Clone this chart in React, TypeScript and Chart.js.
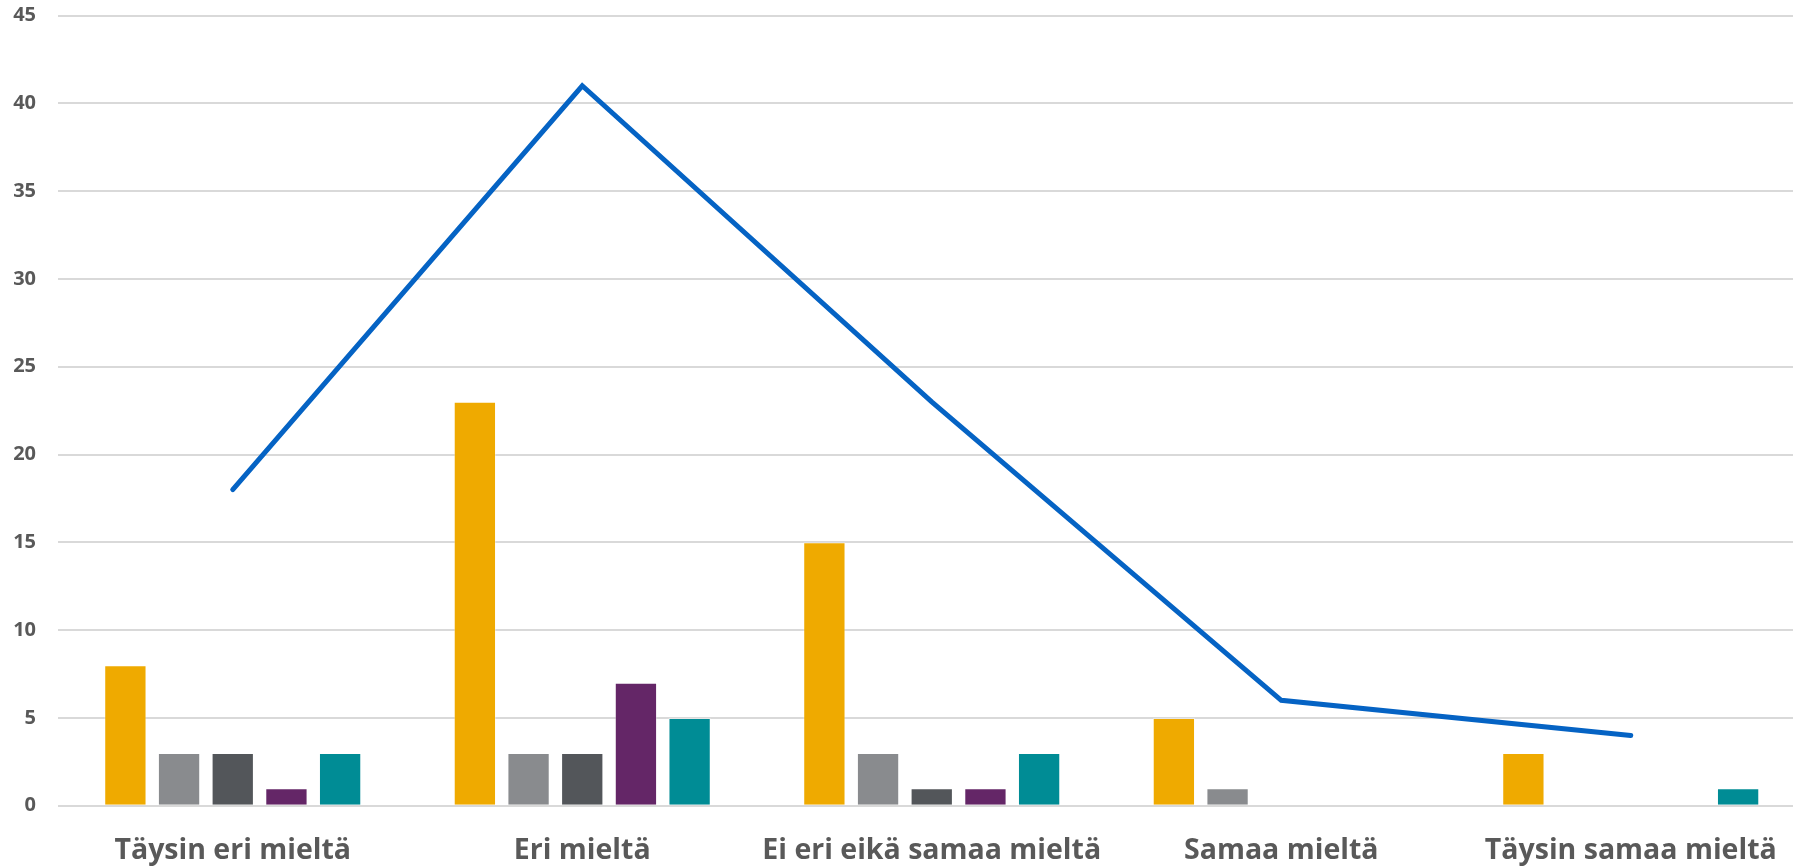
import React, { useEffect, useRef } from "react";
import { Chart, registerables } from "chart.js";

Chart.register(...registerables);

const categories = [
  "Täysin eri mieltä",
  "Eri mieltä",
  "Ei eri eikä samaa mieltä",
  "Samaa mieltä",
  "Täysin samaa mieltä",
];

const series1 = [8, 23, 15, 5, 3];
const series2 = [3, 3, 3, 1, 0];
const series3 = [3, 3, 1, 0, 0];
const series4 = [1, 7, 1, 0, 0];
const series5 = [3, 5, 3, 0, 1];
const totals = [18, 41, 23, 6, 4];

const yTicks = { min: 0, max: 45, step: 5 };

const barColors = ["#EFAA00", "#898B8E", "#53565A", "#642667", "#008C95"];
const lineColor = "#0563C4";
const textColor = "#595959";
const gridColor = "#D9D9D9";

export default function App() {
  const canvasRef = useRef<HTMLCanvasElement | null>(null);

  useEffect(() => {
    document.documentElement.style.overflow = "hidden";
    document.body.style.overflow = "hidden";
    const canvas = canvasRef.current;
    if (!canvas) return;

    const barSets = [series1, series2, series3, series4, series5].map((data, i) => ({
      type: "bar" as const,
      label: `Sarja ${i + 1}`,
      data,
      backgroundColor: barColors[i],
      borderColor: "rgba(255,255,255,0.35)",
      borderWidth: 1,
      categoryPercentage: 0.768,
      barPercentage: 0.788,
      order: 1,
    }));

    const chart = new Chart(canvas, {
      type: "bar",
      data: {
        labels: categories,
        datasets: [
          ...barSets,
          {
            type: "line" as const,
            label: "Yhteensä",
            data: totals,
            borderColor: lineColor,
            borderWidth: 5,
            pointRadius: 0,
            tension: 0,
            fill: false,
            borderCapStyle: "round",
            borderJoinStyle: "miter",
            order: 0,
          } as any,
        ],
      },
      options: {
        animation: false,
        responsive: true,
        maintainAspectRatio: false,
        layout: { padding: { top: 115.5, left: 0, right: 24.5, bottom: 0 } },
        plugins: {
          legend: { display: false },
          title: { display: false },
          tooltip: { enabled: false },
        },
        scales: {
          x: {
            grid: { display: false, drawTicks: false },
            border: { display: false },
            ticks: {
              color: textColor,
              padding: 28,
              maxRotation: 0,
              autoSkip: false,
              font: { family: "'Open Sans'", size: 28.5, weight: "bold" },
            },
            afterFit: (scale: any) => {
              scale.height = 94.3;
            },
          },
          y: {
            min: yTicks.min,
            max: yTicks.max,
            grid: { color: gridColor, lineWidth: 2, drawTicks: false },
            border: { display: false },
            ticks: {
              stepSize: yTicks.step,
              color: textColor,
              padding: 22,
              font: { family: "'Open Sans'", size: 20, weight: "bold" },
            },
            afterFit: (scale: any) => {
              scale.width = 58;
            },
          },
        },
      },
    });

    return () => chart.destroy();
  }, []);

  return (
    <div
      style={{
        position: "fixed",
        left: 0,
        top: -100,
        width: 1830,
        height: 1000,
        background: "#ffffff",
      }}
    >
      <canvas ref={canvasRef} />
    </div>
  );
}
